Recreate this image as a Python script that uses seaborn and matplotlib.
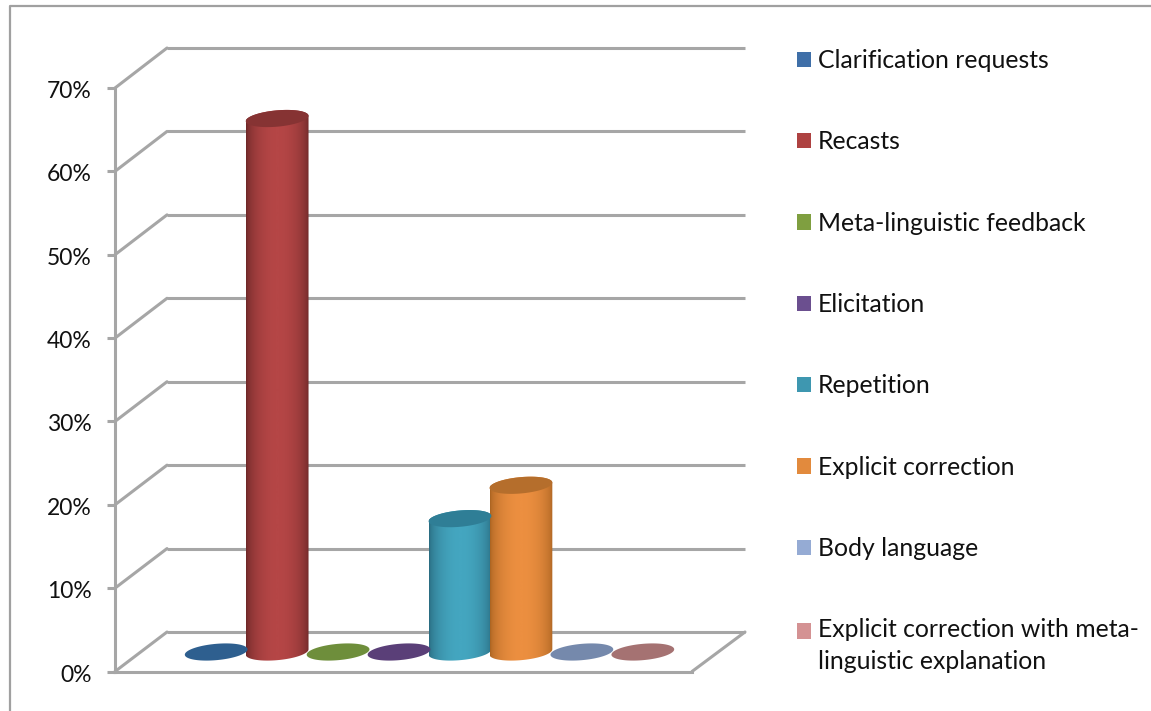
import numpy as np
import pandas as pd
import matplotlib
matplotlib.use("Agg")
import matplotlib.pyplot as plt
import seaborn as sns
from matplotlib.colors import LinearSegmentedColormap
from matplotlib.lines import Line2D
from matplotlib.patches import ConnectionPatch, Patch, PathPatch
from matplotlib.path import Path
from matplotlib.ticker import FuncFormatter
from matplotlib.transforms import ScaledTranslation

# Feedback types and their share of all corrective feedback
methods = [
    "Clarification requests",
    "Recasts",
    "Meta-linguistic feedback",
    "Elicitation",
    "Repetition",
    "Explicit correction",
    "Body language",
    "Explicit correction with meta-\nlinguistic explanation",
]
shares = [0, 64, 0, 0, 16, 20, 0, 0]
y_ticks = [0, 10, 20, 30, 40, 50, 60, 70]

swatch_colors = ["#3F6FA8", "#AE4241", "#7F9F40", "#6B4F8F", "#3E97B0", "#E28A3D", "#95ABD4", "#D49293"]
cap_colors = ["#2E5F8F", "#863333", "#6E8E3B", "#5A3F78", "#2F7E96", "#B56E2C", "#7589AC", "#A57272"]
body_mid = {1: "#B54646", 4: "#44A6C0", 5: "#EC8F40"}
body_edge = {1: "#662525", 4: "#27667A", 5: "#A5601F"}

GRID = "#A6A6A6"
W, H = 1151, 711

sns.set_theme(style="white")
plt.rcParams["font.family"] = ["Lato", "DejaVu Sans"]
fig = plt.figure(figsize=(W / 100, H / 100), dpi=100, facecolor="white")


def pixel_axes(left, top, right, bottom, z):
    a = fig.add_axes([left / W, 1 - bottom / H, (right - left) / W, (bottom - top) / H], zorder=z)
    a.patch.set_alpha(0)
    a.set_ylim(0, 70)
    a.set_xlim(-0.5, 0.5)
    return a


# Three parallel planes make up the box: back wall, front edge, bars halfway between
ax_back = pixel_axes(167, 48, 745, 632, 0)
ax_front = pixel_axes(115, 88, 692, 671.5, 1)
ax = pixel_axes(141, 68.5, 718, 652, 2)

for a in (ax_back, ax):
    a.axis("off")

ax_back.hlines(y_ticks, -0.5, 0.5, color=GRID, lw=2.2, clip_on=False)

for s in ("top", "right"):
    ax_front.spines[s].set_visible(False)
for s in ("left", "bottom"):
    ax_front.spines[s].set_color(GRID)
    ax_front.spines[s].set_linewidth(2.2)
ax_front.set_xticks([])
ax_front.set_yticks(y_ticks)
ax_front.yaxis.set_major_formatter(FuncFormatter(lambda v, _: f"{v:.0f}%"))
ax_front.tick_params(axis="y", left=True, length=6, width=2.2, color=GRID, pad=11,
                     labelsize=16.5, labelcolor="#111111")
nudge = ScaledTranslation(0, -1.5 / 100, fig.dpi_scale_trans)
for label in ax_front.get_yticklabels():
    label.set_transform(label.get_transform() + nudge)

# Diagonal edges joining the front plane to the back wall
for v in y_ticks:
    fig.add_artist(ConnectionPatch((-0.5, v), (-0.5, v), coordsA=ax_front.transData,
                                   coordsB=ax_back.transData, color=GRID, lw=2.2))
fig.add_artist(ConnectionPatch((0.5, 0), (0.5, 0), coordsA=ax_front.transData,
                               coordsB=ax_back.transData, color=GRID, lw=2.2))

df = pd.DataFrame({"group": "All", "method": methods, "share": shares})
sns.barplot(data=df, x="group", y="share", hue="method", hue_order=methods, palette=swatch_colors,
            width=0.845, gap=0, legend=False, ax=ax)
ax.set_xlim(-0.5, 0.5)
ax.set_ylim(0, 70)
ax.axis("off")

# Ellipse half height and tilt, in value units of the y axis
CAP_B = 0.98
CAP_TILT = 0.32
theta = np.linspace(0, 2 * np.pi, 121)


def cap_outline(cx, half, level, angles):
    return np.column_stack([cx + half * np.cos(angles),
                            level + CAP_TILT * np.cos(angles) + CAP_B * np.sin(angles)])


for i, bar in enumerate(ax.patches[:len(methods)]):
    bar.set_visible(False)
    # Cylinders run slightly wider than their slot, so neighbours just touch
    half = bar.get_width() / 2 * 1.03
    cx = bar.get_x() + bar.get_width() / 2
    height = bar.get_height()
    if height > 0:
        lower = cap_outline(cx, half, 0, np.linspace(np.pi, 2 * np.pi, 60))
        upper = cap_outline(cx, half, height, np.linspace(0, np.pi, 60))
        outline = np.vstack([lower, upper, lower[:1]])
        clip = PathPatch(Path(outline), transform=ax.transData, fc="none", ec="none", clip_on=False)
        ax.add_patch(clip)
        # Dark rim fading to a broad lit centre across the cylinder
        shade = LinearSegmentedColormap.from_list("cyl", [body_edge[i], body_mid[i]])
        ramp = np.sin(np.linspace(0, np.pi, 256)) ** 0.5
        img = ax.imshow(ramp[None, :], cmap=shade, vmin=0, vmax=1, aspect="auto",
                        extent=(cx - half, cx + half, -2, height + 2), zorder=3)
        img.set_clip_box(fig.bbox)
        img.set_clip_path(clip)
    cap = cap_outline(cx, half, height, theta)
    ax.fill(cap[:, 0], cap[:, 1], color=cap_colors[i], lw=0, zorder=4, clip_on=False)
ax.set_xlim(-0.5, 0.5)
ax.set_ylim(0, 70)

# Legend down the right-hand side
handles = [Patch(facecolor=c, edgecolor="none") for c in swatch_colors]
leg = ax.legend(handles, methods, loc="upper left", bbox_to_anchor=(797 / W, 1 - 49 / H),
                bbox_transform=fig.transFigure, frameon=False, fontsize=17.8, borderpad=0,
                borderaxespad=0, handlelength=0.567, handleheight=0.567, handletextpad=0.28,
                labelspacing=2.36, labelcolor="#111111")
leg.get_texts()[-1].set_linespacing(1.43)
# The two-line entry keeps its swatch level with the first line
last_handle = leg.legend_handles[-1]
last_handle.set_y(last_handle.get_y() + 11)

# Chart frame along the top and left edges only
fig.add_artist(Line2D([10 / W, 10 / W, 1], [0, 1 - 6 / H, 1 - 6 / H], color="#A0A0A0", lw=1.6))

fig.savefig("out.png", dpi=100, facecolor="white")
